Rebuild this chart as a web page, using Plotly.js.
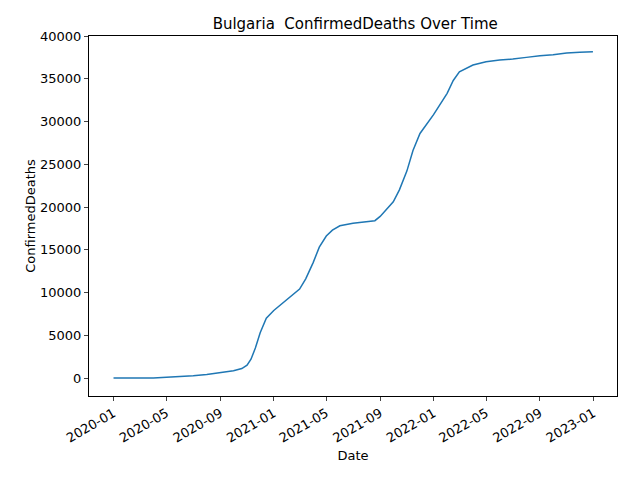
<!DOCTYPE html>
<html><head><meta charset="utf-8">
<script src="https://cdn.plot.ly/plotly-3.0.1.min.js"></script>
</head><body style="margin:0">
<div id="c" style="width:640px;height:480px"></div>
<script>
const dates = ["2020-01-01","2020-02-01","2020-03-01","2020-04-01","2020-05-01","2020-06-01","2020-07-01","2020-08-01","2020-09-01","2020-10-01","2020-10-20","2020-11-01","2020-11-10","2020-11-20","2020-12-01","2020-12-15","2021-01-01","2021-02-01","2021-03-01","2021-03-15","2021-04-01","2021-04-15","2021-05-01","2021-05-15","2021-06-01","2021-07-01","2021-08-01","2021-08-20","2021-09-01","2021-10-01","2021-10-15","2021-11-01","2021-11-15","2021-12-01","2022-01-01","2022-02-01","2022-02-15","2022-03-01","2022-04-01","2022-05-01","2022-06-01","2022-07-01","2022-08-01","2022-09-01","2022-10-01","2022-11-01","2022-12-01","2022-12-31"];
const deaths = [0,0,0,10,90,170,260,420,650,850,1100,1500,2200,3500,5300,7000,7900,9200,10400,11600,13500,15300,16600,17300,17800,18100,18250,18400,18900,20600,22000,24200,26600,28600,30800,33300,34800,35800,36600,37000,37200,37300,37500,37700,37800,38000,38100,38150];
const xTicks = ['2020-01-01','2020-05-01','2020-09-01','2021-01-01','2021-05-01','2021-09-01','2022-01-01','2022-05-01','2022-09-01','2023-01-01'];
const xLabels = ['2020-01','2020-05','2020-09','2021-01','2021-05','2021-09','2022-01','2022-05','2022-09','2023-01'];
const yTicks = [0,5000,10000,15000,20000,25000,30000,35000,40000];
Plotly.newPlot('c', [{x: dates, y: deaths, type: 'scatter', mode: 'lines', line: {color: '#1f77b4', width: 1.5}}], {
  width: 640, height: 480,
  margin: {l: 89, r: 23, t: 36, b: 84},
  font: {family: 'DejaVu Sans', size: 13, color: '#000'},
  title: {text: 'Bulgaria  ConfirmedDeaths Over Time', font: {size: 15}, x: 0.555, xanchor: 'center', y: 0.962},
  showlegend: false,
  plot_bgcolor: '#fff', paper_bgcolor: '#fff',
  xaxis: {type: 'date', range: ['2019-11-06', '2023-02-24'], tickvals: xTicks, ticktext: xLabels, tickangle: -30, ticks: 'outside', ticklen: 4, showgrid: false, zeroline: false, showline: true, mirror: true, linecolor: '#000', title: {text: 'Date', font: {size: 13}, standoff: 6}},
  yaxis: {range: [-2105, 40000], tickvals: yTicks, ticktext: yTicks.map(String), ticks: 'outside', ticklen: 4, showgrid: false, zeroline: false, showline: true, mirror: true, linecolor: '#000', title: {text: 'ConfirmedDeaths', font: {size: 13}}}
}, {displayModeBar: false});
</script></body></html>
